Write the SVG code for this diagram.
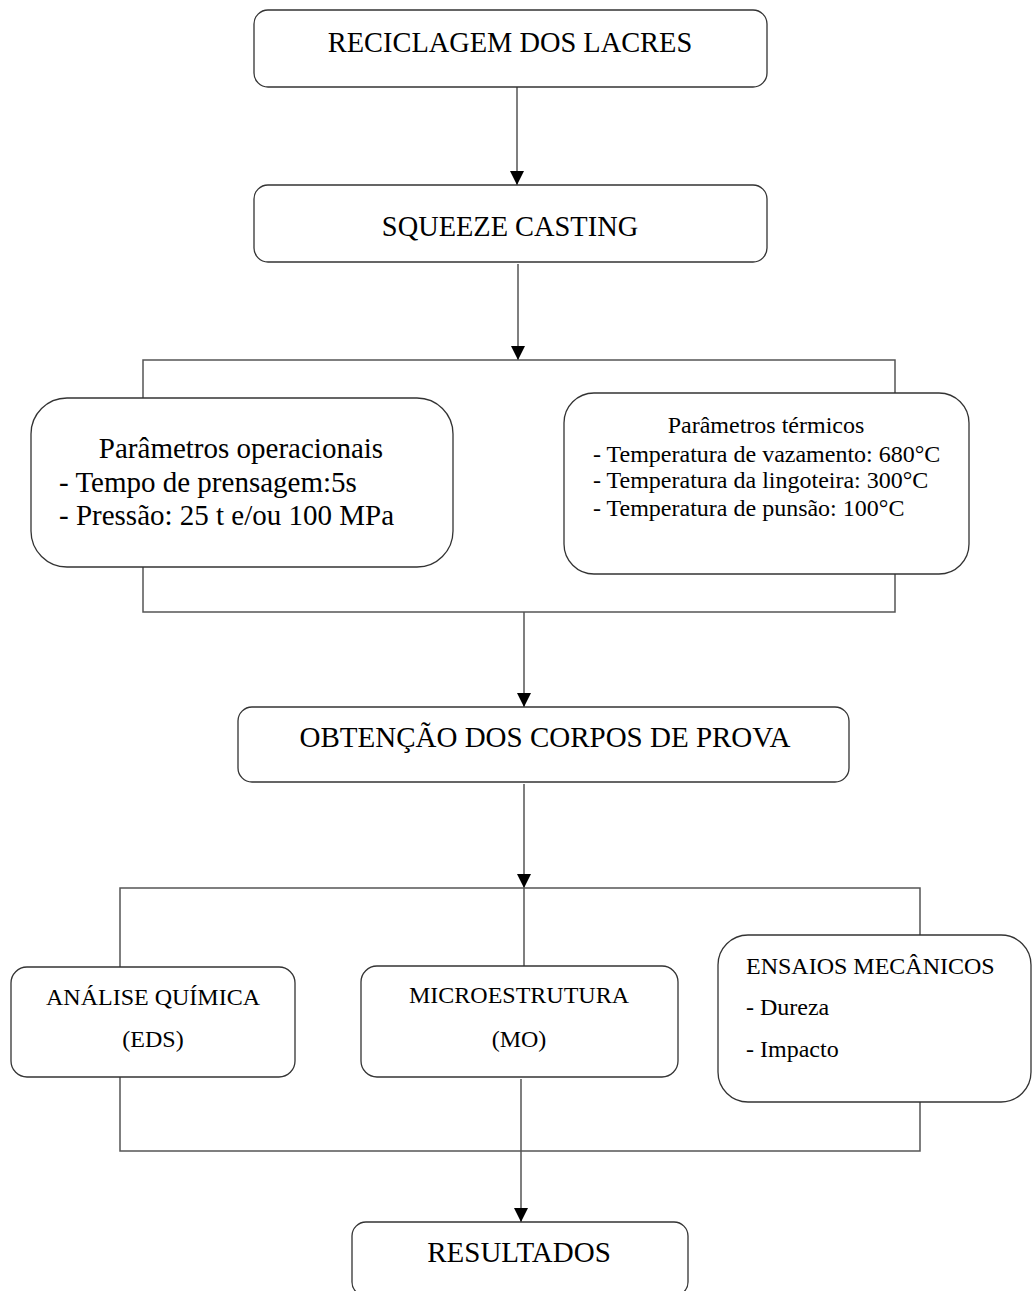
<svg xmlns="http://www.w3.org/2000/svg" width="1033" height="1291" viewBox="0 0 1033 1291">
<style>
.box{fill:#fff;stroke:#333;stroke-width:1.3}
.ln{fill:none;stroke:#555;stroke-width:1.5}
.t{font-family:"Liberation Serif","Times New Roman",serif;fill:#000}
.big{font-size:29px}
.b28{font-size:28.4px}
.sm{font-size:24px}
.c{text-anchor:middle}
</style>
<defs>
<marker id="ah" viewBox="0 0 14 14" refX="14" refY="7" markerWidth="14" markerHeight="14" markerUnits="userSpaceOnUse" orient="auto">
<path d="M0,0 L14,7 L0,14 z" fill="#000"/>
</marker>
</defs>
<rect width="1033" height="1291" fill="#fff"/>
<g id="connectors">
<line class="ln" x1="517" y1="87" x2="517" y2="185" marker-end="url(#ah)"/>
<line class="ln" x1="518" y1="264" x2="518" y2="360" marker-end="url(#ah)"/>
<polyline class="ln" points="143,398 143,360 895,360 895,393"/>
<polyline class="ln" points="143,567 143,612 895,612 895,574"/>
<line class="ln" x1="524" y1="612" x2="524" y2="707" marker-end="url(#ah)"/>
<line class="ln" x1="524" y1="784" x2="524" y2="888" marker-end="url(#ah)"/>
<polyline class="ln" points="120,967 120,888 920,888 920,935"/>
<line class="ln" x1="524" y1="888" x2="524" y2="966"/>
<polyline class="ln" points="120,1077 120,1151 920,1151 920,1102"/>
<line class="ln" x1="521" y1="1079" x2="521" y2="1222" marker-end="url(#ah)"/>
</g>
<g id="n1">
<rect class="box" x="254" y="10" width="513" height="77" rx="14"/>
<text class="t b28 c" x="510" y="52">RECICLAGEM DOS LACRES</text>
</g>
<g id="n2">
<rect class="box" x="254" y="185" width="513" height="77" rx="14"/>
<text class="t b28 c" x="510" y="236">SQUEEZE CASTING</text>
</g>
<g id="n3">
<rect class="box" x="31" y="398" width="422" height="169" rx="36"/>
<text class="t big c" x="241" y="458">Parâmetros operacionais</text>
<text class="t big" x="59" y="492">- Tempo de prensagem:5s</text>
<text class="t big" x="59" y="525">- Pressão: 25 t e/ou 100 MPa</text>
</g>
<g id="n4">
<rect class="box" x="564" y="393" width="405" height="181" rx="30"/>
<text class="t sm c" x="766" y="433">Parâmetros térmicos</text>
<text class="t sm" x="593" y="462">- Temperatura de vazamento: 680°C</text>
<text class="t sm" x="593" y="488">- Temperatura da lingoteira: 300°C</text>
<text class="t sm" x="593" y="516">- Temperatura de punsão: 100°C</text>
</g>
<g id="n5">
<rect class="box" x="238" y="707" width="611" height="75" rx="14"/>
<text class="t big c" x="545" y="747">OBTENÇÃO DOS CORPOS DE PROVA</text>
</g>
<g id="n6">
<rect class="box" x="11" y="967" width="284" height="110" rx="16"/>
<text class="t sm c" x="153" y="1005">ANÁLISE QUÍMICA</text>
<text class="t sm c" x="153" y="1047">(EDS)</text>
</g>
<g id="n7">
<rect class="box" x="361" y="966" width="317" height="111" rx="16"/>
<text class="t sm c" x="519" y="1003">MICROESTRUTURA</text>
<text class="t sm c" x="519" y="1047">(MO)</text>
</g>
<g id="n8">
<rect class="box" x="718" y="935" width="313" height="167" rx="30"/>
<text class="t sm" x="746" y="974">ENSAIOS MECÂNICOS</text>
<text class="t sm" x="746" y="1015">- Dureza</text>
<text class="t sm" x="746" y="1057">- Impacto</text>
</g>
<g id="n9">
<rect class="box" x="352" y="1222" width="336" height="74" rx="14"/>
<text class="t big c" x="519" y="1262">RESULTADOS</text>
</g>
</svg>
